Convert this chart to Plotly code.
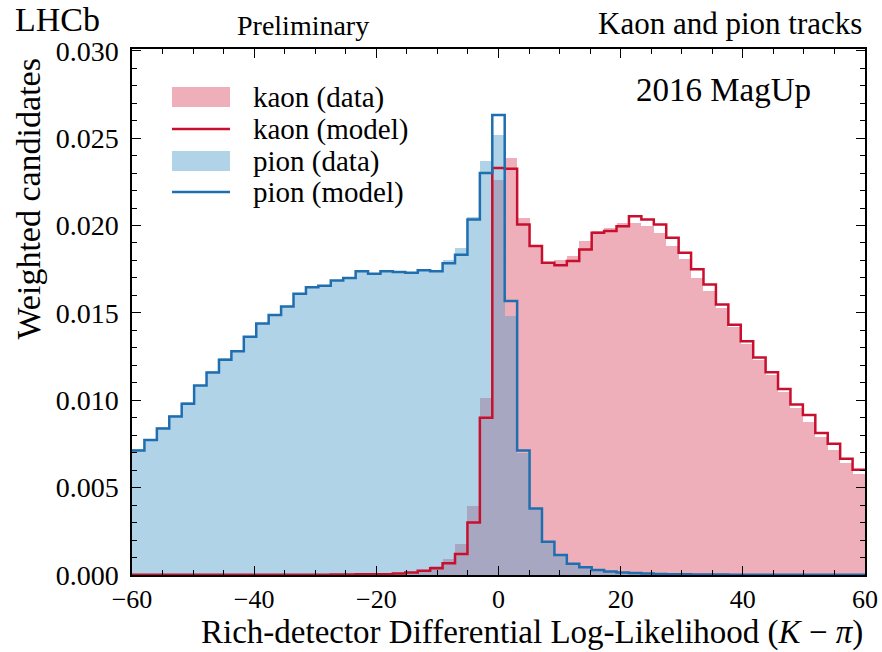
import plotly.graph_objects as go

# ---- data ----
X_LO, X_HI, N_BINS = -60.0, 60.0, 59

pion_model = [0.00713, 0.00773, 0.00838, 0.00907, 0.00980, 0.01084, 0.01159, 0.01232, 0.01281, 0.01364,
              0.01439, 0.01488, 0.01537, 0.01610, 0.01646, 0.01655, 0.01685, 0.01699, 0.01738, 0.01724,
              0.01738, 0.01734, 0.01730, 0.01744, 0.01738, 0.01784, 0.01833, 0.02034, 0.02300, 0.02633,
              0.01568, 0.00713, 0.00380, 0.00190, 0.00114, 0.00065, 0.00044, 0.00029, 0.00020, 0.00014,
              0.00011, 0.00008, 0.00006, 0.00005, 0.00004, 0.00003, 0.00003, 0.00003, 0.00002, 0.00002,
              0.00002, 0.00002, 0.00001, 0.00001, 0.00001, 0.00001, 0.00001, 0.00001, 0.00001]

pion_data = [0.00720, 0.00780, 0.00845, 0.00915, 0.00990, 0.01090, 0.01165, 0.01240, 0.01290, 0.01370,
             0.01440, 0.01495, 0.01540, 0.01615, 0.01650, 0.01660, 0.01690, 0.01705, 0.01740, 0.01730,
             0.01742, 0.01738, 0.01733, 0.01748, 0.01742, 0.01800, 0.01872, 0.02050, 0.02367, 0.02519,
             0.01483, 0.00700, 0.00385, 0.00195, 0.00115, 0.00066, 0.00044, 0.00029, 0.00020, 0.00014,
             0.00011, 0.00008, 0.00006, 0.00005, 0.00004, 0.00003, 0.00003, 0.00003, 0.00002, 0.00002,
             0.00002, 0.00002, 0.00001, 0.00001, 0.00001, 0.00001, 0.00001, 0.00001, 0.00001]

kaon_model = [0.00001, 0.00001, 0.00001, 0.00001, 0.00001, 0.00001, 0.00001, 0.00001, 0.00001, 0.00001,
              0.00001, 0.00002, 0.00002, 0.00002, 0.00002, 0.00002, 0.00003, 0.00003, 0.00004, 0.00004,
              0.00005, 0.00008, 0.00015, 0.00025, 0.00038, 0.00067, 0.00120, 0.00300, 0.00900, 0.02329,
              0.02325, 0.02006, 0.01882, 0.01787, 0.01772, 0.01797, 0.01863, 0.01958, 0.01968, 0.01996,
              0.02053, 0.02034, 0.02006, 0.01930, 0.01844, 0.01749, 0.01663, 0.01548, 0.01432, 0.01337,
              0.01245, 0.01160, 0.01065, 0.00975, 0.00916, 0.00812, 0.00751, 0.00665, 0.00603]

kaon_data = [0.00001, 0.00001, 0.00001, 0.00001, 0.00001, 0.00001, 0.00001, 0.00001, 0.00001, 0.00001,
             0.00001, 0.00002, 0.00002, 0.00002, 0.00002, 0.00002, 0.00003, 0.00003, 0.00004, 0.00005,
             0.00006, 0.00009, 0.00018, 0.00030, 0.00050, 0.00090, 0.00175, 0.00394, 0.01013, 0.02262,
             0.02386, 0.02044, 0.01888, 0.01787, 0.01800, 0.01825, 0.01910, 0.01970, 0.01985, 0.02015,
             0.02015, 0.01995, 0.01958, 0.01882, 0.01806, 0.01702, 0.01625, 0.01530, 0.01420, 0.01320,
             0.01230, 0.01146, 0.01046, 0.00956, 0.00875, 0.00789, 0.00717, 0.00643, 0.00576]

x_ticks = [-60, -40, -20, 0, 20, 40, 60]
y_ticks = [0.000, 0.005, 0.010, 0.015, 0.020, 0.025, 0.030]

legend_labels = ["kaon (data)", "kaon (model)", "pion (data)", "pion (model)"]

# ---- derived binning ----
bw = (X_HI - X_LO) / N_BINS
edges = [X_LO + i * bw for i in range(N_BINS + 1)]
centers = [X_LO + (i + 0.5) * bw for i in range(N_BINS)]

KAON_FILL = "#EFAFBA"
KAON_LINE = "#C8102E"
PION_FILL = "rgba(82,158,202,0.45)"
PION_LINE = "#1F6FB0"
FONT = "Liberation Serif"

fig = go.Figure()
fig.add_trace(go.Bar(x=centers, y=kaon_data, width=bw, marker=dict(color=KAON_FILL, line=dict(width=0)),
                     name=legend_labels[0], showlegend=False))
fig.add_trace(go.Scatter(x=edges, y=kaon_model + [kaon_model[-1]], mode="lines", line_shape="hv",
                         line=dict(color=KAON_LINE, width=2.5), name=legend_labels[1], showlegend=False))
fig.add_trace(go.Bar(x=centers, y=pion_data, width=bw, marker=dict(color=PION_FILL, line=dict(width=0)),
                     name=legend_labels[2], showlegend=False))
fig.add_trace(go.Scatter(x=edges, y=pion_model + [pion_model[-1]], mode="lines", line_shape="hv",
                         line=dict(color=PION_LINE, width=2.5), name=legend_labels[3], showlegend=False))

# ---- custom legend / texts (paper coords) ----
L, R, T, B = 132, 17, 49, 77
W, H = 882 - L - R, 652 - T - B
def px(xp): return (xp - L) / W
def py(yp): return 1 - (yp - T) / H

leg_y = [97, 129, 161, 192]
leg_kind = ["box", "line", "box", "line"]
leg_col = [KAON_FILL, KAON_LINE, "#B1D3E7", PION_LINE]
shapes = []
annotations = []
for lab, yy, kind, col in zip(legend_labels, leg_y, leg_kind, leg_col):
    if kind == "box":
        shapes.append(dict(type="rect", xref="paper", yref="paper", x0=px(172), x1=px(230),
                           y0=py(yy + 10), y1=py(yy - 10), fillcolor=col, line=dict(width=0)))
    else:
        shapes.append(dict(type="line", xref="paper", yref="paper", x0=px(172), x1=px(230),
                           y0=py(yy), y1=py(yy), line=dict(color=col, width=2.5)))
    annotations.append(dict(text=lab, xref="paper", yref="paper", x=px(251), y=py(yy), xanchor="left",
                            yanchor="middle", showarrow=False, font=dict(family=FONT, size=29, color="black")))

annotations += [
    dict(text="LHCb", xref="paper", yref="paper", x=px(13), y=py(20), xanchor="left", yanchor="middle",
         showarrow=False, font=dict(family=FONT, size=34, color="black")),
    dict(text="Preliminary", xref="paper", yref="paper", x=px(235), y=py(25), xanchor="left", yanchor="middle",
         showarrow=False, font=dict(family=FONT, size=28, color="black")),
    dict(text="Kaon and pion tracks", xref="paper", yref="paper", x=px(864), y=py(24), xanchor="right",
         yanchor="middle", showarrow=False, font=dict(family=FONT, size=31, color="black")),
    dict(text="2016 MagUp", xref="paper", yref="paper", x=px(813), y=py(90), xanchor="right",
         yanchor="middle", showarrow=False, font=dict(family=FONT, size=33, color="black")),
    dict(text="Rich-detector Differential Log-Likelihood (<i>K</i> \u2212 <i>\u03c0</i>)", xref="paper",
         yref="paper", x=px(864), y=py(652), xanchor="right", yanchor="bottom", showarrow=False,
         borderpad=0, font=dict(family=FONT, size=33, color="black")),
    dict(text="Weighted candidates", xref="paper", yref="paper", x=px(28), y=py(57), xanchor="center",
         yanchor="top", textangle=-90, showarrow=False, font=dict(family=FONT, size=34, color="black")),
]

fig.update_layout(
    width=882, height=652,
    margin=dict(l=L, r=R, t=T, b=B, pad=0),
    paper_bgcolor="white", plot_bgcolor="white",
    barmode="overlay", bargap=0,
    showlegend=False,
    shapes=shapes, annotations=annotations,
    font=dict(family=FONT, color="black"),
)
axis_common = dict(showgrid=False, zeroline=False, showline=True, linecolor="black", linewidth=1.5,
                   mirror="ticks", ticks="inside", tickcolor="black", tickwidth=1.2, ticklen=9,
                   automargin=False)
fig.update_xaxes(range=[X_LO, X_HI], tickvals=x_ticks,
                 ticktext=[("\u2212" if v < 0 else "") + str(abs(v)) for v in x_ticks],
                 minor=dict(dtick=5, ticks="inside", ticklen=5, tickcolor="black", tickwidth=1),
                 tickfont=dict(family=FONT, size=26, color="black"),
                 ticklabelstandoff=0, **axis_common)
fig.update_yaxes(range=[0, 0.0301], tickvals=y_ticks, ticktext=["%.3f" % v for v in y_ticks],
                 minor=dict(dtick=0.001, ticks="inside", ticklen=5, tickcolor="black", tickwidth=1),
                 tickfont=dict(family=FONT, size=28, color="black"),
                 ticklabelstandoff=6, **axis_common)

fig.write_html("out.html")
